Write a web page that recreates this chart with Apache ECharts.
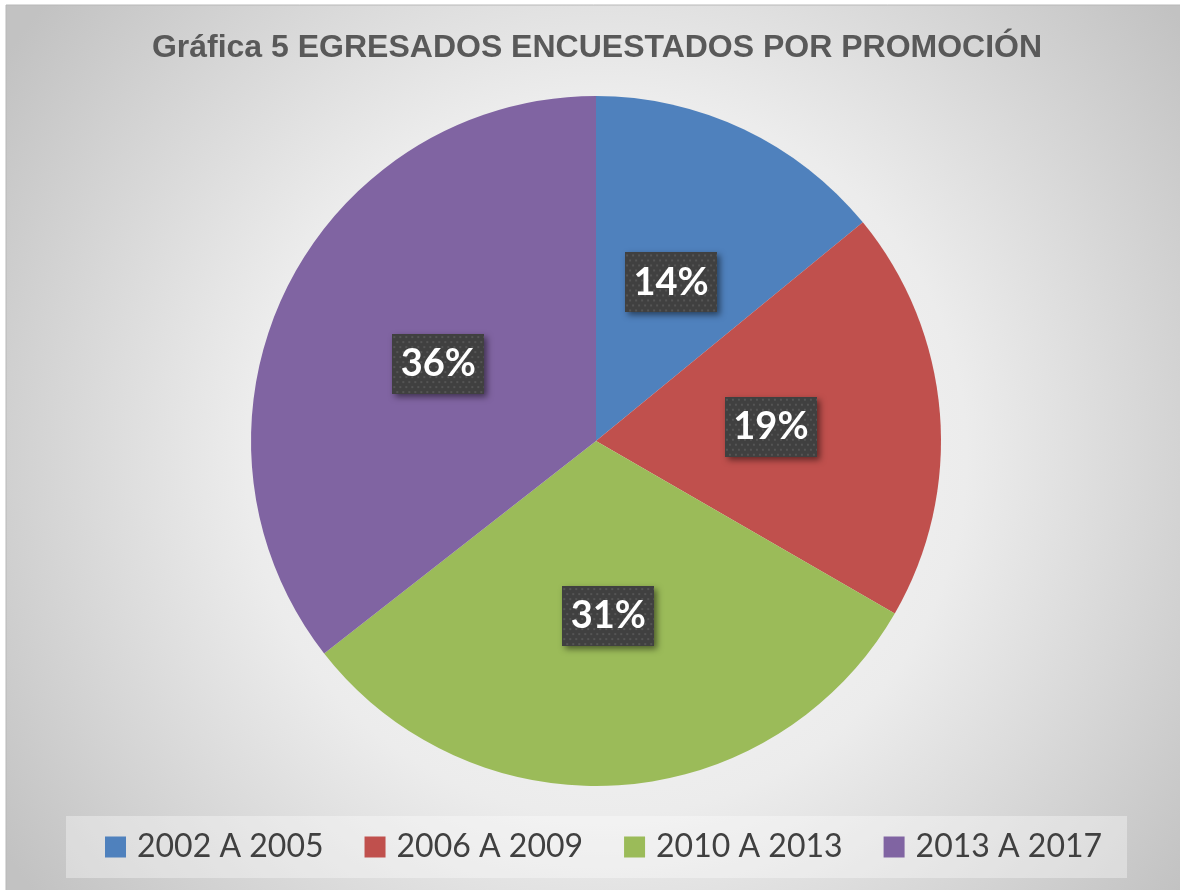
<!DOCTYPE html>
<html>
<head>
<meta charset="utf-8">
<script src="https://cdn.jsdelivr.net/npm/echarts@6/dist/echarts.min.js"></script>
<style>
html,body{margin:0;padding:0;background:#fff;}
#c{width:1180px;height:890px;}
</style>
</head>
<body>
<div id="c"></div>
<script>
const titleText = 'Gráfica 5 EGRESADOS ENCUESTADOS POR PROMOCIÓN';
const categories = ['2002 A 2005', '2006 A 2009', '2010 A 2013', '2013 A 2017'];
const values = [19, 26, 42, 48];
const colors = ['#4F81BD', '#C0504D', '#9BBB59', '#8064A2'];

function dotCanvas(w, h) {
  const cv = document.createElement('canvas');
  cv.width = w; cv.height = h;
  const ctx = cv.getContext('2d');
  ctx.fillStyle = '#404040';
  ctx.fillRect(0, 0, w, h);
  ctx.fillStyle = '#555555';
  let row = 0;
  for (let y = 2; y < h; y += 5, row++) {
    for (let x = (row % 2 ? 4 : 1); x < w; x += 6) {
      ctx.fillRect(x, y, 2, 2);
    }
  }
  return cv;
}
const bgImg = dotCanvas(92, 60);

const chart = echarts.init(document.getElementById('c'), null, {renderer: 'canvas'});
chart.setOption({
  backgroundColor: '#ffffff',
  animation: false,
  graphic: [
    {
      type: 'rect', z: -10,
      shape: {x: 6, y: 5, width: 1200, height: 900},
      style: {
        fill: new echarts.graphic.RadialGradient(0.5, 0.5, 0.8, [
          {offset: 0, color: '#fafafa'},
          {offset: 0.5, color: '#ececec'},
          {offset: 1, color: '#c2c2c2'}
        ]),
        stroke: '#b8b8b8', lineWidth: 1
      }
    },
    {
      type: 'rect', z: -5,
      shape: {x: 66, y: 816, width: 1061, height: 62},
      style: {fill: 'rgba(255,255,255,0.35)'}
    }
  ],
  title: {
    text: titleText,
    left: 592, top: 27, textAlign: 'center',
    textStyle: {
      fontFamily: 'Liberation Sans, Arial, sans-serif',
      fontWeight: 'bold', fontSize: 32, color: '#595959'
    }
  },
  legend: {
    data: categories,
    left: 105, top: 831,
    padding: 0,
    itemWidth: 21, itemHeight: 21, itemGap: 41,
    icon: 'rect',
    textStyle: {
      fontFamily: 'Lato, sans-serif', fontSize: 32, color: '#404040',
      padding: [0, 0, 0, 6], lineHeight: 32
    }
  },
  series: [{
    type: 'pie',
    center: [596, 441],
    radius: 345,
    startAngle: 90,
    clockwise: true,
    data: categories.map((c, i) => ({name: c, value: values[i], itemStyle: {color: colors[i]}})),
    label: {
      show: true,
      position: 'inside',
      formatter: p => Math.round(p.percent) + '%',
      color: '#ffffff',
      fontFamily: 'Lato, sans-serif',
      fontWeight: 'bold',
      fontSize: 38,
      width: 72, height: 38,
      overflow: 'none',
      padding: [12, 10, 10, 10],
      align: 'center', verticalAlign: 'middle',
      backgroundColor: {image: bgImg},
      shadowColor: 'rgba(0,0,0,0.5)',
      shadowBlur: 6, shadowOffsetX: 3, shadowOffsetY: 3
    },
    labelLine: {show: false},
    emphasis: {disabled: true}
  }]
});
</script>
</body>
</html>
